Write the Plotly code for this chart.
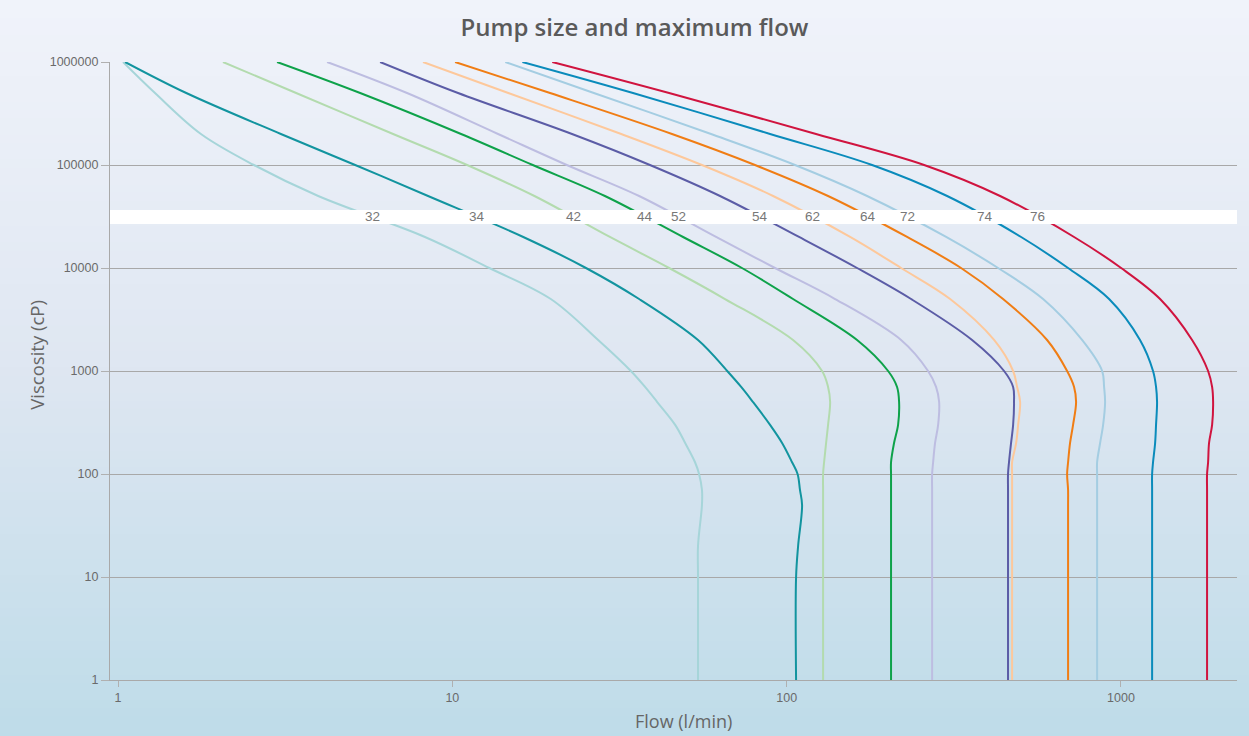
import numpy as np
import plotly.graph_objects as go

# ---- data ----
viscosity = [1000000, 500000, 200000, 100000, 50000, 20000, 10000, 5000, 2000, 1000,
             700, 500, 300, 200, 130, 100, 70, 50, 20, 10, 1]

pumps = ["32", "34", "42", "44", "52", "54", "62", "64", "72", "74", "76"]

flow_32 = [1.035, 1.29, 1.77, 2.55, 3.97, 8.28, 12.9, 19.7, 27.3, 34.2,
           37.7, 41.0, 46.4, 49.7, 53.2, 54.7, 55.8, 55.8, 54.3, 54.3, 54.3]
flow_34 = [1.05, 1.60, 3.07, 5.12, 8.46, 16.3, 25.1, 36.2, 54.3, 66.4,
           73.1, 79.3, 89.2, 96.9, 103.8, 107.8, 109.6, 111.2, 108.2, 106.7, 106.7]
flow_42 = [2.06, 3.41, 6.65, 11.07, 17.6, 29.6, 44.5, 65.4, 104.5, 127.6,
           133.0, 134.9, 133.0, 131.2, 129.4, 128.5, 128.5, 128.5, 128.5, 128.5, 128.5]
flow_44 = [2.99, 5.30, 10.62, 17.4, 28.6, 49.0, 73.5, 104.5, 162.4, 201.1,
           213.9, 216.9, 215.4, 209.5, 205.2, 205.2, 205.2, 205.2, 205.2, 205.2, 205.2]
flow_52 = [4.22, 7.32, 13.7, 22.0, 36.2, 61.5, 92.3, 139.6, 219.9, 264.8,
           279.8, 285.8, 283.8, 277.9, 274.2, 272.3, 272.3, 272.3, 272.3, 272.3, 272.3]
flow_54 = [6.08, 10.4, 22.8, 39.0, 63.2, 108.9, 162.4, 235.6, 358.6, 447.0,
           475.7, 478.7, 475.7, 469.0, 462.4, 459.3, 459.3, 459.3, 459.3, 459.3, 459.3]
flow_62 = [8.17, 14.7, 32.0, 55.8, 91.1, 154.8, 219.9, 308.3, 417.3, 475.7,
           489.0, 499.2, 492.4, 485.7, 472.4, 472.4, 472.4, 472.4, 472.4, 472.4, 472.4]
flow_64 = [10.19, 19.6, 45.4, 80.4, 133.0, 229.2, 332.4, 443.9, 601.1, 690.0,
           723.9, 734.0, 718.9, 704.2, 694.6, 690.0, 694.6, 694.6, 694.6, 694.6, 694.6]
flow_72 = [14.4, 26.5, 59.4, 105.9, 174.0, 299.9, 429.0, 584.8, 764.9, 878.1,
           890.1, 896.3, 884.2, 866.1, 848.3, 848.3, 848.3, 848.3, 848.3, 848.3, 848.3]
flow_74 = [16.2, 34.7, 89.2, 180.1, 301.9, 502.7, 694.6, 921.3, 1140, 1247,
           1273, 1282, 1273, 1265, 1247, 1239, 1239, 1239, 1239, 1239, 1239]
flow_76 = [19.9, 44.5, 122.4, 257.7, 434.9, 723.9, 1001, 1309, 1632, 1822,
           1873, 1886, 1873, 1834, 1822, 1809, 1809, 1809, 1809, 1809, 1809]

flows = [flow_32, flow_34, flow_42, flow_44, flow_52, flow_54,
         flow_62, flow_64, flow_72, flow_74, flow_76]

colors = ["#a6d5d9", "#12949f", "#b3dbae", "#0ea24a", "#bdbde1", "#5b5ca6",
          "#fdc89b", "#f07d14", "#a4cde2", "#0a8bbb", "#d0143f"]

x_ticks = [1, 10, 100, 1000]
y_ticks = [1, 10, 100, 1000, 10000, 100000, 1000000]

label_level = 31300           # viscosity of the white label band centre
band_low, band_high = 26700, 36600

fig = go.Figure()

# background gradient (decorative)
top = np.array([241, 244, 251])
mid = np.array([223, 231, 242])
bot = np.array([190, 220, 233])
n = 90
y_top, y_bot = 1.11, -0.10
for i in range(n):
    t = (i + 0.5) / n
    c = top + (mid - top) * (t / 0.5) if t < 0.5 else mid + (bot - mid) * ((t - 0.5) / 0.5)
    y1 = y_top - (y_top - y_bot) * i / n
    y0 = y_top - (y_top - y_bot) * (i + 1) / n
    fig.add_shape(type="rect", xref="paper", yref="paper", x0=-0.12, x1=1.03,
                  y0=y0 - 0.001, y1=y1 + 0.001, line_width=0,
                  fillcolor="rgb(%d,%d,%d)" % tuple(c.astype(int)), layer="below")

for name, fl, col in zip(pumps, flows, colors):
    fig.add_trace(go.Scatter(x=fl, y=viscosity, mode="lines", name=name,
                             line=dict(color=col, width=2, shape="spline", smoothing=1.0),
                             showlegend=False))

# white label band
fig.add_shape(type="rect", xref="paper", yref="y", x0=0, x1=1,
              y0=band_low, y1=band_high,
              fillcolor="white", line_width=0, layer="above")

lv = np.log10(viscosity[::-1])
for name, fl in zip(pumps, flows):
    xc = np.interp(np.log10(label_level), lv, np.log10(fl[::-1]))
    fig.add_annotation(x=xc, y=np.log10(label_level), xref="x", yref="y",
                       text=name, showarrow=False, xanchor="center", yanchor="middle",
                       font=dict(family="Liberation Sans, Arial", size=13.5, color="#777777"))

fig.add_annotation(x=-0.065, y=0.526, xref="paper", yref="paper", text="Viscosity (cP)",
                   textangle=-90, showarrow=False, xanchor="center", yanchor="middle",
                   font=dict(family="Open Sans", size=18.5, color="#666666"))
fig.add_annotation(x=0.509, y=-0.066, xref="paper", yref="paper", text="Flow (l/min)",
                   showarrow=False, xanchor="center", yanchor="middle",
                   font=dict(family="Open Sans", size=18, color="#666666"))

fig.update_layout(
    width=1249, height=736,
    margin=dict(l=110, r=12, t=62, b=56),
    paper_bgcolor="#e3eaf3", plot_bgcolor="rgba(0,0,0,0)",
    title=dict(text="Pump size and maximum flow", x=0.508, xref="container", xanchor="center",
               y=0.963, yref="container", yanchor="middle",
               font=dict(family="Open Sans", size=24, color="#5a5a5a", weight=600)),
    xaxis=dict(type="log", range=[-0.024, 3.347], tickvals=x_ticks,
               ticktext=[str(v) for v in x_ticks], showgrid=False, zeroline=False,
               showline=True, linecolor="#a9a9a9", linewidth=1.2,
               ticks="outside", ticklen=6, tickcolor="#b0b0b0",
               tickfont=dict(family="Liberation Sans, Arial", size=12.5, color="#6a6a6a")),
    yaxis=dict(type="log", range=[0, 6], tickvals=y_ticks,
               ticktext=[str(v) for v in y_ticks], showgrid=True, gridcolor="#a8a8a8",
               gridwidth=1, zeroline=False,
               showline=True, linecolor="#a9a9a9", linewidth=1.2,
               ticks="outside", ticklen=8, tickcolor="#b0b0b0",
               tickfont=dict(family="Liberation Sans, Arial", size=12.5, color="#6a6a6a")),
)

fig.write_html("out.html", config={"displayModeBar": False},
               post_script="document.body.style.margin='0px';")
